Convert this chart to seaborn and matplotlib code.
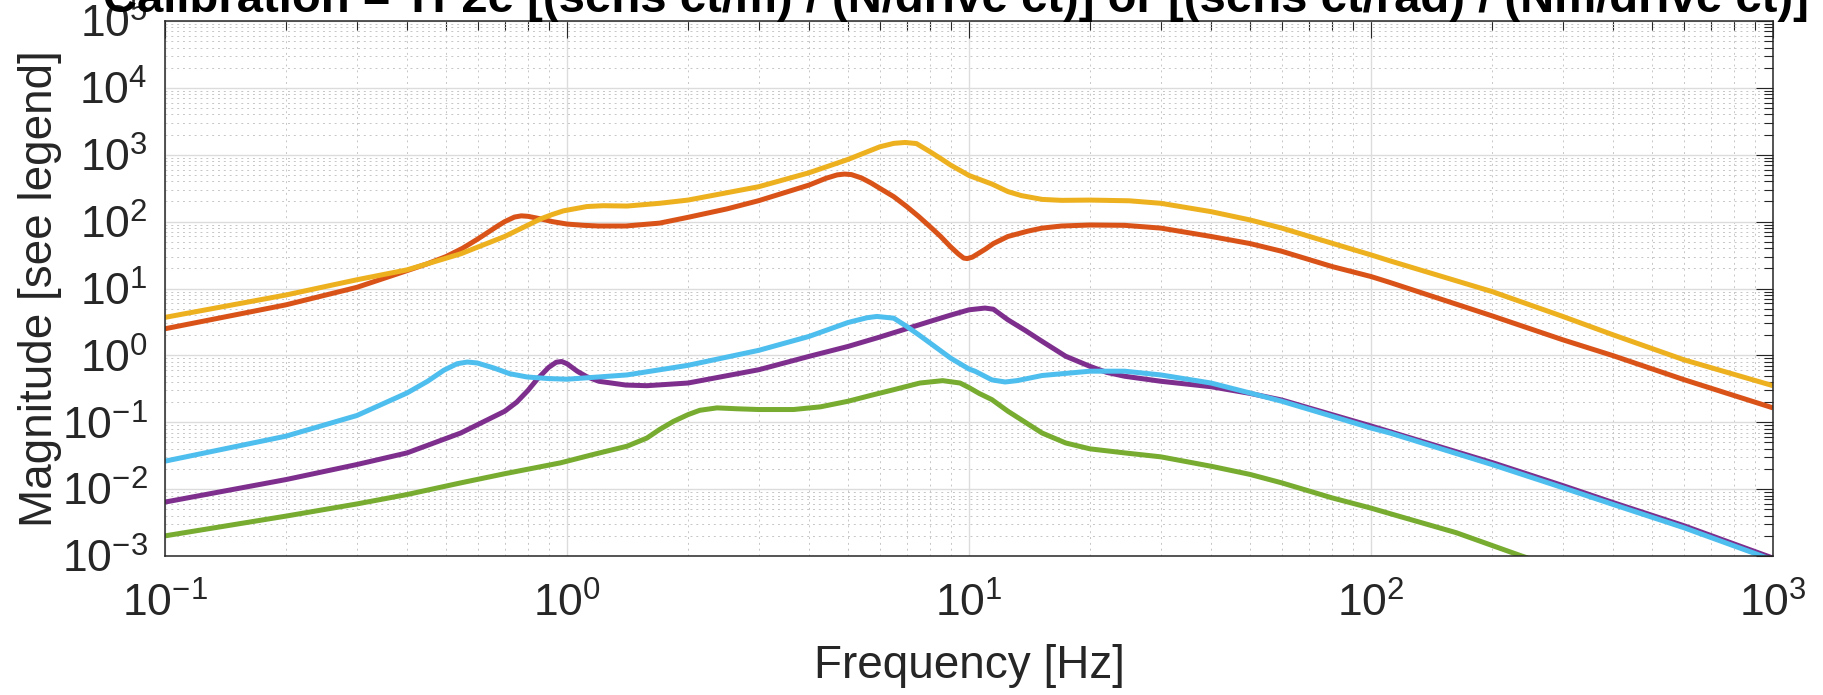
import numpy as np
import pandas as pd
import matplotlib
matplotlib.use("Agg")
import matplotlib.pyplot as plt
import seaborn as sns
from matplotlib.ticker import FixedLocator, LogLocator, NullFormatter, LogFormatterSciNotation

# Transfer-function magnitudes, one channel per series (frequency in Hz)
freq_orange = [0.1, 0.2, 0.3, 0.4, 0.45, 0.5, 0.55, 0.6, 0.67, 0.7, 0.74, 0.77, 0.8, 0.86,
               0.92, 1.0, 1.1, 1.2, 1.4, 1.7, 2.0, 2.5, 3.0, 4.0, 4.4, 4.7, 4.9, 5.1, 5.4,
               5.7, 6.0, 6.5, 7.0, 7.5, 8.0, 8.5, 9.0, 9.4, 9.7, 9.9, 10.2, 10.6, 11.0,
               11.5, 12.5, 14.0, 15.2, 17.0, 20, 24.4, 30, 40, 50, 60, 80, 100, 111.5, 200,
               300, 400, 600, 1000]
mag_orange = [2.5, 5.7, 10.4, 18.5, 23.5, 30, 40, 55, 85, 100, 117, 122, 120, 110,
              100, 92, 88, 86, 86, 95, 116, 155, 206, 352, 443, 500, 514, 505, 450,
              380, 315, 236, 168, 119, 84, 60, 42, 33, 28.5, 28, 29.5, 34, 39,
              47, 60, 72, 80, 86, 89, 88, 80, 60, 47, 36, 21.3, 15.1, 12.3, 3.9,
              1.71, 0.99, 0.434, 0.164]

freq_yellow = [0.1, 0.2, 0.3, 0.4, 0.544, 0.7, 0.86, 0.92, 0.98, 1.12, 1.23, 1.41, 1.7, 2.0,
               3.0, 4.0, 5.0, 6.0, 6.5, 6.93, 7.4, 8.0, 8.5, 9.0, 10.0, 11.4, 12.5, 13.5,
               15.2, 17.0, 20, 25, 30, 40, 50, 60, 80, 100, 111.5, 200, 300, 400, 600, 1000]
mag_yellow = [3.7, 8.0, 13.5, 19, 33, 60, 110, 128, 145, 168, 173, 171, 188, 210,
              333, 538, 851, 1315, 1480, 1527, 1470, 1109, 880, 701, 490, 365, 281, 245,
              215, 208, 210, 205, 188, 141, 106, 80, 47.5, 31.8, 25.9, 9.0, 3.82, 2.03,
              0.86, 0.352]

freq_purple = [0.1, 0.2, 0.3, 0.4, 0.544, 0.7, 0.75, 0.8, 0.843, 0.9, 0.94, 0.97, 1.0,
               1.06, 1.12, 1.2, 1.4, 1.58, 2.0, 3.0, 4.0, 5.0, 6.0, 8.0, 9.0, 10, 10.96,
               11.5, 12.5, 13.8, 15.2, 17.4, 20, 22, 24.4, 30, 40, 50, 60, 80, 100, 200,
               300, 400, 600, 1000]
mag_purple = [0.0064, 0.0139, 0.0233, 0.0348, 0.069, 0.146, 0.2, 0.30, 0.44, 0.66, 0.79,
              0.81, 0.75, 0.58, 0.48, 0.41, 0.36, 0.352, 0.386, 0.61, 0.966, 1.36, 1.88,
              3.22, 4.0, 4.8, 5.1, 4.9, 3.4, 2.36, 1.62, 0.97, 0.685, 0.557, 0.487, 0.41,
              0.34, 0.27, 0.215, 0.13, 0.088, 0.025, 0.0113, 0.0063, 0.00284, 0.00093]

freq_green = [0.1, 0.2, 0.3, 0.4, 0.544, 0.7, 0.963, 1.17, 1.41, 1.58, 1.7, 1.84, 2.0,
              2.14, 2.36, 2.65, 3.0, 3.66, 4.27, 5.0, 5.8, 6.5, 7.55, 8.6, 9.5, 10,
              10.6, 11.4, 12.5, 13.8, 15.2, 17.4, 20, 24.4, 30, 40, 50, 60, 80, 100,
              111.5, 163, 237, 260]
mag_green = [0.0020, 0.00395, 0.0060, 0.0083, 0.0124, 0.017, 0.0247, 0.0333, 0.0438,
             0.058, 0.078, 0.103, 0.13, 0.151, 0.164, 0.159, 0.155, 0.155, 0.17, 0.206,
             0.259, 0.307, 0.386, 0.419, 0.386, 0.33, 0.27, 0.218, 0.146, 0.1, 0.069,
             0.049, 0.040, 0.0348, 0.0304, 0.022, 0.0166, 0.0124, 0.0074, 0.0052,
             0.0043, 0.00223, 0.001, 0.00083]

freq_cyan = [0.1, 0.2, 0.3, 0.4, 0.45, 0.494, 0.533, 0.565, 0.598, 0.658, 0.72, 0.796,
             0.9, 1.0, 1.41, 2.0, 3.0, 4.0, 5.0, 5.57, 5.9, 6.5, 7.0, 7.5, 8.0, 9.0, 10,
             10.35, 11.4, 12.3, 13.2, 15.2, 20, 24.4, 30, 40, 50, 60, 80, 100, 111.5,
             200, 300, 400, 600, 1000]
mag_cyan = [0.0262, 0.062, 0.126, 0.274, 0.41, 0.60, 0.75, 0.795, 0.77, 0.647, 0.532,
            0.475, 0.45, 0.44, 0.51, 0.71, 1.19, 1.92, 3.1, 3.65, 3.82, 3.6, 2.71, 2.03,
            1.53, 0.91, 0.625, 0.58, 0.43, 0.40, 0.42, 0.50, 0.58, 0.58, 0.51, 0.386,
            0.274, 0.206, 0.123, 0.082, 0.069, 0.0233, 0.0105, 0.0059, 0.00265, 0.00087]

series_names = ["orange", "yellow", "purple", "green", "cyan"]
series_colors = ["#D95319", "#EDB120", "#7E2F8E", "#77AC30", "#4DBEEE"]

x_ticks = [0.1, 1, 10, 100, 1000]
y_ticks = [1e-3, 1e-2, 1e-1, 1e0, 1e1, 1e2, 1e3, 1e4, 1e5]

title_text = "Calibration = TF2e [(sens ct/m) / (N/drive ct)] or [(sens ct/rad) / (Nm/drive ct)]"
x_label = "Frequency [Hz]"
y_label = "Magnitude [see legend]"

frames = []
for name, f, m in zip(series_names,
                      [freq_orange, freq_yellow, freq_purple, freq_green, freq_cyan],
                      [mag_orange, mag_yellow, mag_purple, mag_green, mag_cyan]):
    frames.append(pd.DataFrame({"freq": f, "mag": m, "series": name}))
df = pd.concat(frames, ignore_index=True)

sns.set_theme(style="white")
plt.rcParams["font.family"] = ["Liberation Sans", "DejaVu Sans"]
plt.rcParams["mathtext.default"] = "regular"
plt.rcParams["axes.unicode_minus"] = False

ink = "#262626"
fig = plt.figure(figsize=(18.23, 6.95), dpi=100)
ax = fig.add_axes([165 / 1823, 1 - 556 / 695, (1773 - 165) / 1823, (556 - 21) / 695])
ax.set_xscale("log")
ax.set_yscale("log")

sns.lineplot(data=df, x="freq", y="mag", hue="series", hue_order=series_names,
             palette=dict(zip(series_names, series_colors)), estimator=None,
             sort=True, legend=False, linewidth=3.6, ax=ax)
for line in ax.get_lines():
    line.set_solid_joinstyle("round")
    line.set_solid_capstyle("butt")

ax.set_xlim(x_ticks[0], x_ticks[-1])
ax.set_ylim(y_ticks[0], y_ticks[-1])
ax.xaxis.set_major_locator(FixedLocator(x_ticks))
ax.yaxis.set_major_locator(FixedLocator(y_ticks))
ax.xaxis.set_major_formatter(LogFormatterSciNotation())
ax.yaxis.set_major_formatter(LogFormatterSciNotation())
ax.xaxis.set_minor_locator(LogLocator(base=10, subs=np.arange(2, 10), numticks=100))
ax.yaxis.set_minor_locator(LogLocator(base=10, subs=np.arange(2, 10), numticks=100))
ax.xaxis.set_minor_formatter(NullFormatter())
ax.yaxis.set_minor_formatter(NullFormatter())

ax.set_axisbelow(True)
ax.grid(which="major", color="#DCDCDC", linewidth=1.0, linestyle="-")
ax.grid(which="minor", color="#C6C6C6", linewidth=0.7, linestyle=(0, (2.0, 4.0)))

ax.tick_params(which="both", direction="in", top=True, right=True,
               color=ink, labelcolor=ink, width=0.8)
ax.tick_params(which="major", length=12, labelsize=32)
ax.tick_params(axis="x", which="major", pad=19)
ax.tick_params(axis="y", which="major", pad=12.5)
ax.tick_params(which="minor", length=6.5)
for sp in ax.spines.values():
    sp.set_color(ink)
    sp.set_linewidth(1.1)

ax.set_xlabel(x_label, fontsize=33, color=ink)
ax.set_ylabel(y_label, fontsize=33, color=ink)
ax.xaxis.set_label_coords(0.5, -0.165)
ax.yaxis.set_label_coords(-0.064, 0.5)

fig.text(956 / 1823, 1 - 12 / 695, title_text, ha="center", va="baseline",
         fontsize=34, fontweight="bold", color="black")

fig.savefig("out.png", dpi=100, facecolor="white")
